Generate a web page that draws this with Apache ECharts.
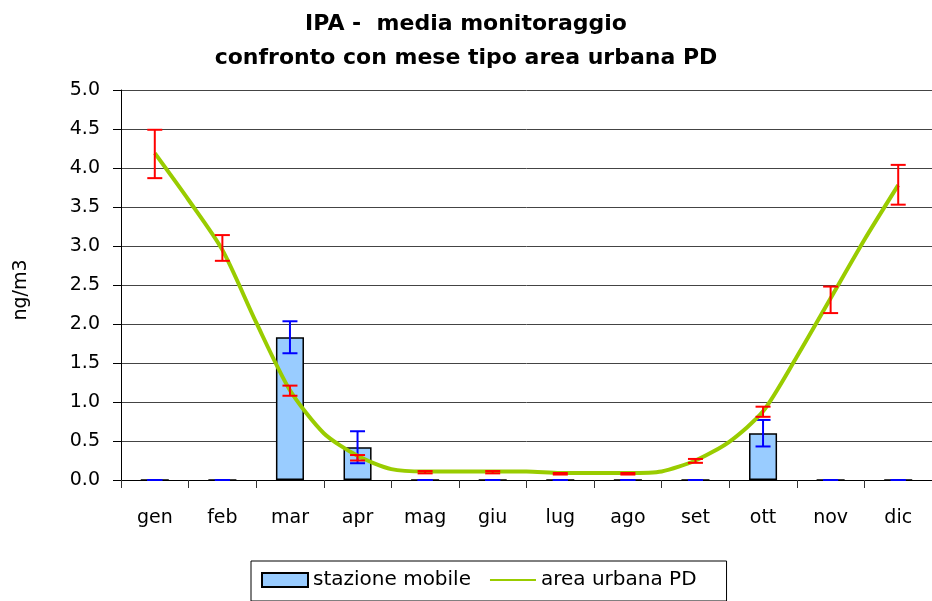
<!DOCTYPE html>
<html>
<head>
<meta charset="utf-8">
<script src="https://cdn.jsdelivr.net/npm/echarts@6/dist/echarts.min.js"></script>
<style>html,body{margin:0;padding:0;background:#fff}#c{width:932px;height:601px}</style>
</head>
<body>
<div id="c"></div>
<script>
// ---- data ----
const categories = ['gen','feb','mar','apr','mag','giu','lug','ago','set','ott','nov','dic'];
const stazioneMobile = [0, 0, 1.83, 0.42, 0, 0, 0, 0, 0, 0.60, 0, 0];
const stazioneMobileErr = [0, 0, 0.205, 0.205, 0, 0, 0, 0, 0, 0.17, 0, 0];
const meseTipo = [4.18, 2.975, 1.145, 0.285, 0.10, 0.10, 0.08, 0.08, 0.245, 0.875, 2.31, 3.785];
const meseTipoErr = [0.31, 0.165, 0.065, 0.035, 0.015, 0.015, 0.01, 0.01, 0.025, 0.065, 0.17, 0.255];
// area urbana PD curve sampled every half month (gen .. dic)
const areaUrbana = [4.19, 3.59, 2.95, 2.02, 1.15, 0.60, 0.31, 0.14, 0.11, 0.11, 0.11, 0.11,
                    0.09, 0.09, 0.09, 0.11, 0.25, 0.49, 0.88, 1.58, 2.33, 3.08, 3.78];

const FONT = '"DejaVu Sans", "Liberation Sans", Arial, sans-serif';

function errRender(color) {
  return function (params, api) {
    const x = api.value(0);
    const lo = api.coord([x, api.value(1)]);
    const hi = api.coord([x, api.value(2)]);
    const hw = 7.5;
    const style = { stroke: color, lineWidth: 2 };
    return {
      type: 'group',
      children: [
        { type: 'line', shape: { x1: lo[0], y1: lo[1], x2: hi[0], y2: hi[1] }, style: style },
        { type: 'line', shape: { x1: hi[0] - hw, y1: hi[1], x2: hi[0] + hw, y2: hi[1] }, style: style },
        { type: 'line', shape: { x1: lo[0] - hw, y1: lo[1], x2: lo[0] + hw, y2: lo[1] }, style: style }
      ]
    };
  };
}

const blueErrData = stazioneMobile.map((v, i) => [i, v - stazioneMobileErr[i], v + stazioneMobileErr[i]]);
const redErrData = meseTipo.map((v, i) => [i, v - meseTipoErr[i], v + meseTipoErr[i]]);
const curveData = areaUrbana.map((v, i) => [i / 2, v]);

const chart = echarts.init(document.getElementById('c'), null, { renderer: 'canvas' });
chart.setOption({
  animation: false,
  backgroundColor: '#fff',
  textStyle: { fontFamily: FONT },
  title: {
    text: 'IPA -  media monitoraggio\nconfronto con mese tipo area urbana PD',
    left: 'center',
    top: 2,
    textStyle: { fontFamily: FONT, fontSize: 22, fontWeight: 'bold', color: '#000', lineHeight: 34 }
  },
  legend: {
    data: [
      { name: 'stazione mobile', icon: 'rect', itemStyle: { borderWidth: 2 } },
      { name: 'area urbana PD', itemStyle: { opacity: 0 } }
    ],
    left: 251,
    bottom: 0,
    padding: [9, 30, 11, 10],
    borderColor: '#000',
    borderWidth: 1,
    itemWidth: 46,
    itemHeight: 14,
    itemGap: 18,
    textStyle: { fontFamily: FONT, fontSize: 20, color: '#000' }
  },
  grid: { left: 121, right: -11, top: 90, bottom: 121, containLabel: false },
  xAxis: [
    {
      type: 'category',
      data: categories,
      boundaryGap: true,
      axisLine: { lineStyle: { color: '#000', width: 1 } },
      axisTick: { show: true, length: 8, lineStyle: { color: '#333' } },
      axisLabel: { fontFamily: FONT, fontSize: 19, color: '#000', margin: 29 },
      splitLine: { show: false }
    },
    {
      type: 'value',
      min: -0.5,
      max: 11.5,
      show: false
    }
  ],
  yAxis: {
    type: 'value',
    min: 0,
    max: 5,
    interval: 0.5,
    name: 'ng/m3',
    nameLocation: 'middle',
    nameGap: 90,
    nameTextStyle: { fontFamily: FONT, fontSize: 19, color: '#000', padding: [0, 10, 0, 0] },
    axisLine: { show: true, onZero: false, lineStyle: { color: '#000', width: 1 } },
    axisTick: { show: true, length: 8, lineStyle: { color: '#000' } },
    axisLabel: { fontFamily: FONT, fontSize: 19, color: '#000', margin: 21, formatter: v => v.toFixed(1) },
    splitLine: { show: true, lineStyle: { color: '#444', width: 1 } }
  },
  series: [
    {
      name: 'stazione mobile',
      type: 'bar',
      data: stazioneMobile,
      barWidth: '41.5%',
      itemStyle: { color: '#99ccff', borderColor: '#000', borderWidth: 1.5 },
      z: 2
    },
    {
      type: 'custom',
      renderItem: errRender('#0000ff'),
      data: blueErrData,
      encode: { x: 0, y: [1, 2] },
      z: 3
    },
    {
      name: 'area urbana PD',
      type: 'line',
      xAxisIndex: 1,
      data: curveData,
      symbol: 'none',
      smooth: 0.25,
      lineStyle: { color: '#99cc00', width: 4 },
      itemStyle: { color: '#99cc00' },
      z: 4
    },
    {
      type: 'custom',
      renderItem: errRender('#ff0000'),
      data: redErrData,
      encode: { x: 0, y: [1, 2] },
      z: 5
    }
  ]
});
</script>
</body>
</html>
